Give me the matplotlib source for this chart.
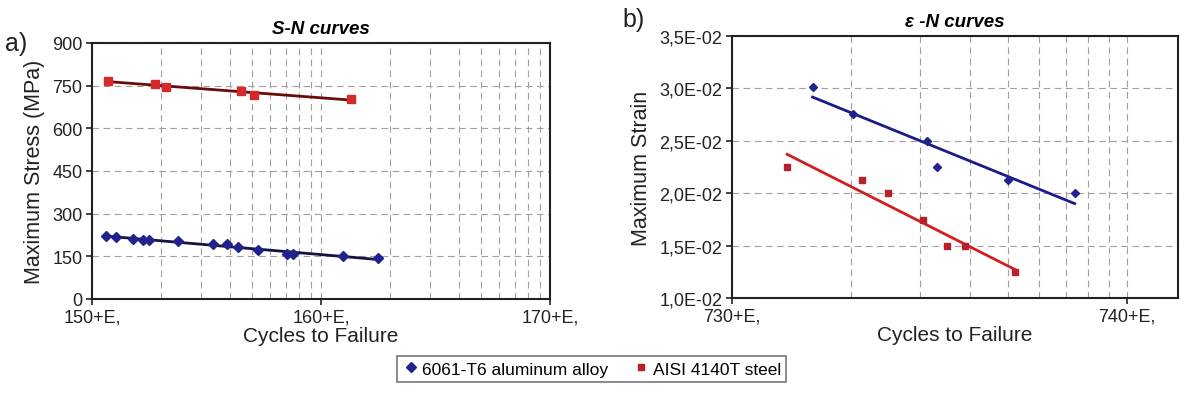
import numpy as np
import matplotlib
matplotlib.use("Agg")
import matplotlib.pyplot as plt
from matplotlib.ticker import FixedLocator, LogLocator, NullFormatter

# ---- data ----
al_sn_N = [1.15e5, 1.27e5, 1.51e5, 1.67e5, 1.77e5, 2.38e5, 3.38e5, 3.89e5,
           4.34e5, 5.31e5, 7.11e5, 7.55e5, 1.25e6, 1.77e6]
al_sn_S = [221, 218, 211, 208, 208, 203, 195, 192, 183, 171, 157, 157, 150, 145]
st_sn_N = [1.17e5, 1.88e5, 2.10e5, 4.48e5, 5.10e5, 1.35e6]
st_sn_S = [766, 756, 745, 731, 717, 703]

al_en_N = [1.60e3, 2.02e3, 3.12e3, 3.30e3, 5.00e3, 7.38e3]
al_en_e = [0.0301, 0.0276, 0.0250, 0.0225, 0.0213, 0.0200]
st_en_N = [1.38e3, 2.13e3, 2.49e3, 3.05e3, 3.50e3, 3.89e3, 5.20e3]
st_en_e = [0.0225, 0.0213, 0.0200, 0.0174, 0.0150, 0.0150, 0.0125]

sn_xticks = [1e5, 1e6, 1e7]
sn_xlabels = ["150+E,", "160+E,", "170+E,"]
sn_yticks = [0, 150, 300, 450, 600, 750, 900]
en_xticks = [1e3, 1e4]
en_xlabels = ["730+E,", "740+E,"]
en_yticks = [0.010, 0.015, 0.020, 0.025, 0.030, 0.035]
en_ylabels = ["1,0E-02", "1,5E-02", "2,0E-02", "2,5E-02", "3,0E-02", "3,5E-02"]

series_names = ["6061-T6 aluminum alloy", "AISI 4140T steel"]

BLUE = "#22228f"
RED = "#d42a2a"
DRED = "#b8202c"

plt.rcParams['font.family'] = ['Liberation Sans', 'DejaVu Sans']

fig = plt.figure(figsize=(11.81, 4.10), dpi=100)
ax1 = fig.add_axes([0.0779, 0.2683, 0.3878, 0.6244])
ax2 = fig.add_axes([0.6198, 0.2707, 0.3777, 0.6390])


def semilogfit(N, y):
    N = np.asarray(N, float)
    y = np.asarray(y, float)
    b, a = np.polyfit(np.log10(N), y, 1)
    xs = np.logspace(np.log10(N.min()), np.log10(N.max()), 100)
    return xs, a + b * np.log10(xs)


def style(ax):
    ax.set_xscale('log')
    ax.xaxis.set_minor_locator(LogLocator(base=10, subs=np.arange(2, 10)))
    ax.xaxis.set_minor_formatter(NullFormatter())
    ax.grid(True, which='both', axis='x', color='#a0a0a0', linestyle=(0, (6, 4)), lw=0.8)
    ax.grid(True, which='major', axis='y', color='#a0a0a0', linestyle=(0, (6, 4)), lw=0.8)
    ax.set_axisbelow(True)
    ax.tick_params(which='minor', length=0)
    ax.tick_params(which='major', direction='out', length=4, width=1.2, labelsize=13,
                   colors='#222222', pad=3)
    for s in ax.spines.values():
        s.set_linewidth(1.5)
        s.set_color('#222222')


# ---- S-N ----
style(ax1)
xs, ys = semilogfit(st_sn_N, st_sn_S)
ax1.plot(xs, ys, color='#6a0c0c', lw=2.0, zorder=3)
xs, ys = semilogfit(al_sn_N, al_sn_S)
ax1.plot(xs, ys, color='#141440', lw=2.0, zorder=3)
ax1.plot(al_sn_N, al_sn_S, linestyle='none', marker='D', ms=5, color=BLUE, zorder=4)
ax1.plot(st_sn_N, st_sn_S, linestyle='none', marker='s', ms=5.5, color=RED, zorder=4)
ax1.set_xlim(1e5, 1e7)
ax1.set_ylim(0, 900)
ax1.xaxis.set_major_locator(FixedLocator(sn_xticks))
ax1.set_xticklabels(sn_xlabels)
ax1.yaxis.set_major_locator(FixedLocator(sn_yticks))
ax1.set_ylabel("Maximum Stress (MPa)", fontsize=15.5, labelpad=5, color='#222222')
ax1.set_xlabel("Cycles to Failure", fontsize=15, labelpad=0, color='#222222')
ax1.set_title("S-N curves", fontsize=13.5, fontweight='bold', style='italic', pad=7)

# ---- e-N ----
style(ax2)
xs, ys = semilogfit(al_en_N, al_en_e)
ax2.plot(xs, ys, color='#1c1c88', lw=2.0, zorder=3)
xs, ys = semilogfit(st_en_N, st_en_e)
ax2.plot(xs, ys, color='#d21e1e', lw=2.0, zorder=3)
ax2.plot(al_en_N, al_en_e, linestyle='none', marker='D', ms=4.2, color=BLUE, zorder=4)
ax2.plot(st_en_N, st_en_e, linestyle='none', marker='s', ms=5, color=DRED, zorder=4)
ax2.set_xlim(1e3, 10 ** 4.13)
ax2.set_ylim(0.010, 0.035)
ax2.xaxis.set_major_locator(FixedLocator(en_xticks))
ax2.set_xticklabels(en_xlabels)
ax2.yaxis.set_major_locator(FixedLocator(en_yticks))
ax2.set_yticklabels(en_ylabels)
ax2.set_ylabel("Maximum Strain", fontsize=15.5, labelpad=5, color='#222222')
ax2.set_xlabel("Cycles to Failure", fontsize=15, labelpad=0, color='#222222')
ax2.set_title("\u03b5 -N curves", fontsize=13.5, fontweight='bold', style='italic', pad=7)

fig.text(0.004, 0.875, "a)", fontsize=18, color='#222222')
fig.text(0.527, 0.935, "b)", fontsize=18, color='#222222')

# ---- legend ----
h1 = plt.Line2D([], [], linestyle='none', marker='D', ms=5, color=BLUE)
h2 = plt.Line2D([], [], linestyle='none', marker='s', ms=5, color=DRED)
leg = fig.legend([h1, h2], series_names, loc='center', bbox_to_anchor=(0.501, 0.0976),
                 ncol=2, fontsize=12.5, frameon=True, fancybox=False, edgecolor='#555555',
                 handletextpad=0.15, columnspacing=1.4, borderpad=0.3, handlelength=1.0)
leg.get_frame().set_linewidth(1.2)

fig.savefig("out.png", dpi=100)
